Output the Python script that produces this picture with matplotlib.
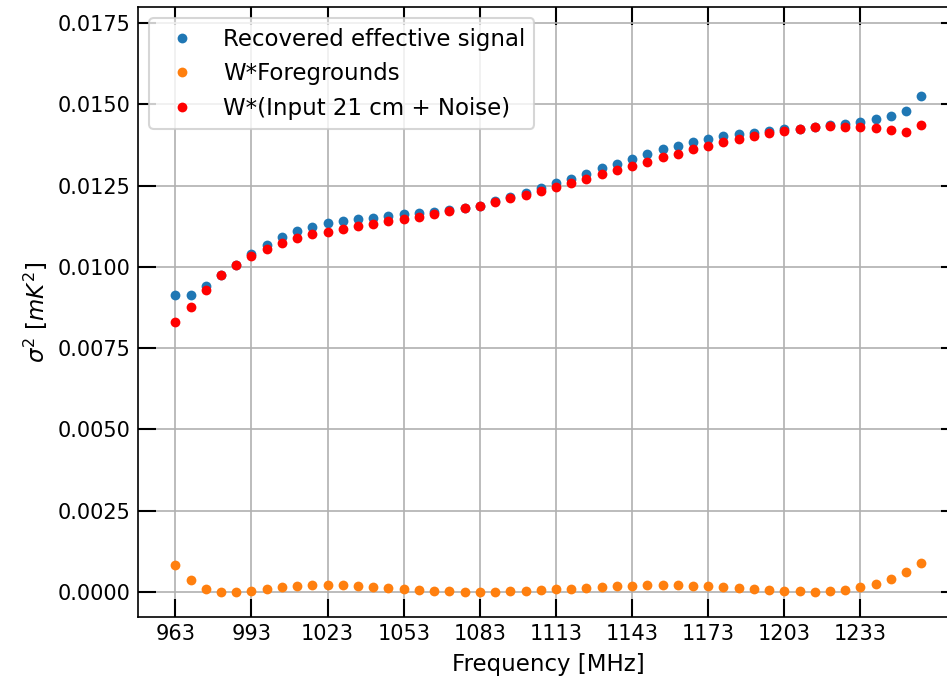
import numpy as np
import matplotlib
matplotlib.use("Agg")
import matplotlib.pyplot as plt

freq = np.arange(963, 1258, 6)  # MHz, 50 channels

recovered = [0.00915, 0.00915, 0.00943, 0.00976, 0.01007, 0.01040, 0.01067, 0.01091, 0.01110, 0.01124,
             0.01134, 0.01143, 0.01148, 0.01152, 0.01157, 0.01163, 0.01166, 0.01170, 0.01174, 0.01180,
             0.01189, 0.01202, 0.01216, 0.01229, 0.01243, 0.01257, 0.01272, 0.01287, 0.01305, 0.01318,
             0.01333, 0.01347, 0.01362, 0.01371, 0.01384, 0.01393, 0.01402, 0.01408, 0.01413, 0.01419,
             0.01426, 0.01426, 0.01431, 0.01437, 0.01440, 0.01447, 0.01454, 0.01464, 0.01479, 0.01525]

foregrounds = [0.00083, 0.00036, 0.00010, 0.00001, 0.00000, 0.00003, 0.00009, 0.00014, 0.00018, 0.00020,
               0.00023, 0.00021, 0.00019, 0.00016, 0.00013, 0.00010, 0.00006, 0.00004, 0.00002, 0.00000,
               0.00000, 0.00000, 0.00002, 0.00004, 0.00006, 0.00008, 0.00010, 0.00013, 0.00015, 0.00017,
               0.00019, 0.00021, 0.00023, 0.00021, 0.00019, 0.00017, 0.00014, 0.00012, 0.00009, 0.00006,
               0.00003, 0.00002, 0.00001, 0.00003, 0.00007, 0.00014, 0.00026, 0.00040, 0.00061, 0.00088]

input_noise = [0.00832, 0.00878, 0.00930, 0.00974, 0.01007, 0.01035, 0.01056, 0.01075, 0.01089, 0.01100,
               0.01108, 0.01118, 0.01126, 0.01133, 0.01140, 0.01148, 0.01155, 0.01164, 0.01171, 0.01180,
               0.01189, 0.01200, 0.01213, 0.01223, 0.01235, 0.01245, 0.01258, 0.01271, 0.01285, 0.01298,
               0.01310, 0.01324, 0.01339, 0.01349, 0.01362, 0.01372, 0.01385, 0.01395, 0.01402, 0.01411,
               0.01418, 0.01425, 0.01430, 0.01433, 0.01431, 0.01432, 0.01428, 0.01420, 0.01416, 0.01436]

labels = ["Recovered effective signal", "W*Foregrounds", "W*(Input 21 cm + Noise)"]
xticks = np.arange(963, 1234, 30)

fig = plt.figure(figsize=(947 / 150, 680 / 150), dpi=150)
ax = fig.add_axes([138 / 947, 63 / 680, (958.7 - 138) / 947, 610 / 680])

ax.plot(freq, recovered, 'o', color='#1f77b4', ms=4.7, mew=0, label=labels[0])
ax.plot(freq, foregrounds, 'o', color='#ff7f0e', ms=4.7, mew=0, label=labels[1])
ax.plot(freq, input_noise, 'o', color='red', ms=4.7, mew=0, label=labels[2])

ax.set_ylim(-0.00077, 0.018)
ax.set_xticks(xticks)
ax.grid(True)
ax.tick_params(direction='in', length=8.5, width=1.0, top=True, right=True, labelsize=10)
ax.set_xlabel("Frequency [MHz]", fontsize=11)
ax.set_ylabel(r"$\sigma^2$ $[mK^2]$", fontsize=11)
ax.legend(loc='upper left', fontsize=11)

fig.savefig("out.png", dpi=150)
